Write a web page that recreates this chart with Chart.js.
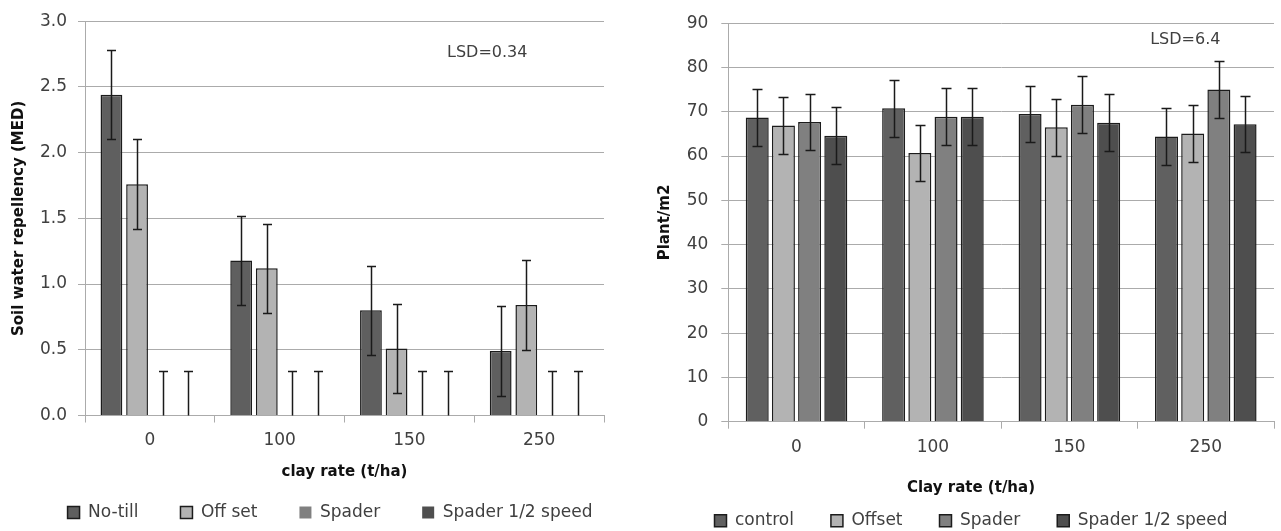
<!DOCTYPE html>
<html>
<head>
<meta charset="utf-8">
<script src="https://cdn.jsdelivr.net/npm/chart.js@4.4.1/dist/chart.umd.min.js"></script>
<style>
  html, body { margin: 0; padding: 0; background: #fff; overflow: hidden; }
  body { width: 1281px; height: 531px; position: relative; }
  canvas { position: absolute; top: 0; }
  #repellency { left: 0; }
  #plants { left: 640px; }
</style>
</head>
<body>
<canvas id="repellency" width="660" height="531"></canvas>
<canvas id="plants" width="662" height="540"></canvas>
<script>
// categories
const clayRates = ["0", "100", "150", "250"];

// left chart: soil water repellency (MED)
const tillageNames = ["No-till", "Off set", "Spader", "Spader 1/2 speed"];
const noTill = [2.44, 1.18, 0.80, 0.49];
const offSet = [1.76, 1.12, 0.51, 0.84];
const spaderMed = [0, 0, 0, 0];
const spaderHalfMed = [0, 0, 0, 0];
const medError = [0.34, 0.34, 0.34, 0.34];
const medTicks = [0, 0.5, 1.0, 1.5, 2.0, 2.5, 3.0];

// right chart: plants per m2
const plantNames = ["control", "Offset", "Spader", "Spader 1/2 speed"];
const control = [68.7, 70.8, 69.5, 64.4];
const offsetPlants = [66.9, 60.7, 66.5, 65.1];
const spaderPlants = [67.7, 68.9, 71.6, 75.0];
const spaderHalfPlants = [64.6, 68.9, 67.5, 67.2];
const plantError = [6.4, 6.4, 6.4, 6.4];
const plantTicks = [0, 10, 20, 30, 40, 50, 60, 70, 80, 90];

const FONT = "'DejaVu Sans', sans-serif";
const GRID = "#ababab";
const EDGE = "#1c1c1c";

Chart.defaults.font.family = FONT;
Chart.defaults.font.size = 17;
Chart.defaults.color = "#404040";

// draws +/- error whiskers on every bar, clipped to the plot area
const errorBars = {
  id: "errorBars",
  afterDatasetsDraw(chart, args, opts) {
    const { ctx, chartArea, scales } = chart;
    const y = scales.y;
    ctx.save();
    ctx.beginPath();
    ctx.rect(chartArea.left, chartArea.top - 30, chartArea.width, chartArea.height + 30);
    ctx.clip();
    ctx.strokeStyle = opts.color;
    ctx.lineWidth = opts.width;
    chart.data.datasets.forEach((ds, i) => {
      const meta = chart.getDatasetMeta(i);
      meta.data.forEach((bar, j) => {
        const v = ds.data[j];
        const e = ds.errors[j];
        const x = Math.round(bar.x) + 0.5;
        const hi = Math.round(y.getPixelForValue(v + e)) + 0.5;
        const lo = Math.round(y.getPixelForValue(v - e)) + 0.5;
        const c = opts.cap;
        ctx.beginPath();
        ctx.moveTo(x, hi);
        ctx.lineTo(x, lo);
        ctx.moveTo(x - c, hi);
        ctx.lineTo(x + c, hi);
        ctx.moveTo(x - c, lo);
        ctx.lineTo(x + c, lo);
        ctx.stroke();
      });
    });
    ctx.restore();
  }
};

// LSD note placed in data coordinates
const lsdNote = {
  id: "lsdNote",
  afterDraw(chart, args, opts) {
    const { ctx, scales } = chart;
    ctx.save();
    ctx.font = "16px " + FONT;
    ctx.fillStyle = "#404040";
    ctx.textAlign = "center";
    ctx.textBaseline = "middle";
    ctx.fillText(opts.text, scales.x.getPixelForValue(opts.at), scales.y.getPixelForValue(opts.value));
    ctx.restore();
  }
};

function barSet(label, data, errors, bg, bw) {
  return {
    label,
    data,
    errors,
    backgroundColor: bg,
    borderColor: EDGE,
    borderWidth: bw,
  };
}

new Chart(document.getElementById("repellency"), {
  type: "bar",
  plugins: [errorBars, lsdNote],
  data: {
    labels: clayRates,
    datasets: [
      barSet(tillageNames[0], noTill, medError, "#5f5f5f", 1.5),
      barSet(tillageNames[1], offSet, medError, "#b3b3b3", 1.5),
      barSet(tillageNames[2], spaderMed, medError, "#808080", 0),
      barSet(tillageNames[3], spaderHalfMed, medError, "#4f4f4f", 0),
    ],
  },
  options: {
    responsive: false,
    animation: false,
    events: [],
    categoryPercentage: 0.79,
    barPercentage: 0.85,
    layout: { padding: { top: 19.3, bottom: 0, left: 0, right: 0 } },
    scales: {
      x: {
        grid: { drawOnChartArea: false, tickLength: 7, color: GRID, offset: true },
        border: { color: GRID },
        ticks: { padding: 8 },
        title: {
          display: true,
          text: "clay rate (t/ha)",
          color: "#111",
          font: { size: 15, weight: "bold" },
          padding: { top: 0, bottom: -19 },
        },
        afterFit(s) { s.height = 46.5; },
      },
      y: {
        min: 0,
        max: 3,
        grid: { color: GRID, tickLength: 7 },
        border: { color: GRID },
        afterBuildTicks(s) { s.ticks = medTicks.map((v) => ({ value: v })); },
        ticks: { padding: 11, callback: (v) => Number(v).toFixed(1) },
        title: {
          display: true,
          text: "Soil water repellency (MED)",
          color: "#111",
          font: { size: 15, weight: "bold" },
          padding: { top: 10, bottom: 0 },
        },
        afterFit(s) { s.width = 85; },
      },
      yR: {
        position: "right",
        grid: { display: false },
        border: { display: false },
        ticks: { display: false },
        afterFit(s) { s.width = 56; },
      },
    },
    plugins: {
      legend: {
        position: "bottom",
        labels: { boxWidth: 12, boxHeight: 12, padding: 42, color: "#404040" },
      },
      tooltip: { enabled: false },
      errorBars: { color: "#1a1a1a", width: 1.5, cap: 4.5 },
      lsdNote: { text: "LSD=0.34", at: 2.6, value: 2.76 },
    },
  },
});

new Chart(document.getElementById("plants"), {
  type: "bar",
  plugins: [errorBars, lsdNote],
  data: {
    labels: clayRates,
    datasets: [
      barSet(plantNames[0], control, plantError, "#606060", 1.5),
      barSet(plantNames[1], offsetPlants, plantError, "#b3b3b3", 1.5),
      barSet(plantNames[2], spaderPlants, plantError, "#808080", 1.5),
      barSet(plantNames[3], spaderHalfPlants, plantError, "#4e4e4e", 1.5),
    ],
  },
  options: {
    responsive: false,
    animation: false,
    events: [],
    categoryPercentage: 0.768,
    barPercentage: 0.878,
    layout: { padding: { top: 14.7, bottom: 0.8, left: 0, right: 0 } },
    scales: {
      x: {
        grid: { drawOnChartArea: false, tickLength: 7, color: GRID, offset: true },
        border: { color: GRID },
        ticks: { padding: 9 },
        afterFit(s) { s.height = 38.3; },
      },
      y: {
        min: 0,
        max: 90,
        grid: { color: GRID, tickLength: 7 },
        border: { color: GRID },
        afterBuildTicks(s) { s.ticks = plantTicks.map((v) => ({ value: v })); },
        ticks: { padding: 13 },
        title: {
          display: true,
          text: "Plant/m2",
          color: "#111",
          font: { size: 15, weight: "bold" },
          padding: { top: 16, bottom: 0 },
        },
        afterFit(s) { s.width = 88.3; },
      },
      yR: {
        position: "right",
        grid: { display: false },
        border: { display: false },
        ticks: { display: false },
        afterFit(s) { s.width = 28; },
      },
    },
    plugins: {
      title: {
        display: true,
        position: "bottom",
        weight: 500,
        text: "Clay rate (t/ha)",
        color: "#111",
        font: { size: 15, weight: "bold" },
        padding: { top: 18.7, bottom: -21.5 },
      },
      legend: {
        position: "bottom",
        labels: { boxWidth: 12, boxHeight: 12, padding: 37, color: "#404040" },
      },
      tooltip: { enabled: false },
      errorBars: { color: "#1a1a1a", width: 1.5, cap: 5 },
      lsdNote: { text: "LSD=6.4", at: 2.85, value: 86.2 },
    },
  },
});
</script>
</body>
</html>
